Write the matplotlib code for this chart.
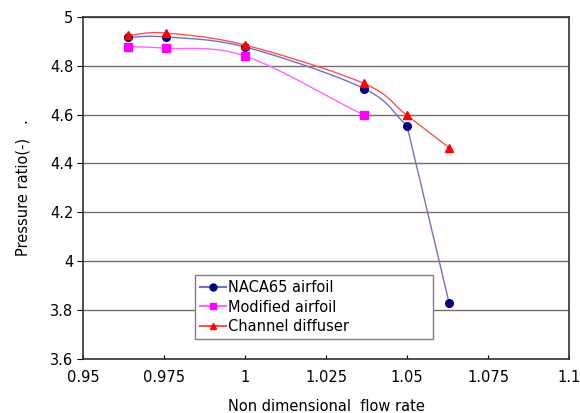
import numpy as np
import matplotlib.pyplot as plt

flow = [0.964, 0.9755, 1.0, 1.0367, 1.05, 1.063]
naca = [4.917, 4.918, 4.877, 4.707, 4.555, 3.83]
flow_mod = [0.964, 0.9755, 1.0, 1.0367]
modified = [4.878, 4.872, 4.84, 4.598]
channel = [4.925, 4.934, 4.885, 4.728, 4.597, 4.465]


def smooth(xs, ys, n=30):
    # catmull-rom, similar to Excel "smoothed line"
    xs = np.asarray(xs, float)
    ys = np.asarray(ys, float)
    px = np.concatenate([[2 * xs[0] - xs[1]], xs, [2 * xs[-1] - xs[-2]]])
    py = np.concatenate([[2 * ys[0] - ys[1]], ys, [2 * ys[-1] - ys[-2]]])
    ox, oy = [], []
    for i in range(1, len(px) - 2):
        t = np.linspace(0, 1, n)
        for p, o in ((px, ox), (py, oy)):
            p0, p1, p2, p3 = p[i - 1], p[i], p[i + 1], p[i + 2]
            o.extend(0.5 * (2 * p1 + (-p0 + p2) * t + (2 * p0 - 5 * p1 + 4 * p2 - p3) * t ** 2
                            + (-p0 + 3 * p1 - 3 * p2 + p3) * t ** 3))
    return ox, oy


fig = plt.figure(figsize=(5.8, 4.13), dpi=100)
ax = fig.add_axes([0.143, 0.131, 0.838, 0.828])

# smooth up to 1.05, straight to last point
sx, sy = smooth(flow[:5], naca[:5])
ax.plot(sx + flow[5:], sy + naca[5:], color='#7070c8', lw=1)
ax.plot(flow, naca, 'o', color='#000080', ms=5.5)
sx, sy = smooth(flow_mod, modified)
ax.plot(sx, sy, color='#ff66ff', lw=1)
ax.plot(flow_mod, modified, 's', color='#ff00ff', ms=6)
sx, sy = smooth(flow[:5], channel[:5])
ax.plot(sx + flow[5:], sy + channel[5:], color='#ff5050', lw=1)
ax.plot(flow, channel, '^', color='#ff0000', ms=6)

# legend proxies with line + marker
h = [plt.Line2D([], [], color='#7070c8', marker='o', mfc='#000080', mec='#000080', ms=5),
     plt.Line2D([], [], color='#ff66ff', marker='s', mfc='#ff00ff', mec='#ff00ff', ms=5),
     plt.Line2D([], [], color='#ff5050', marker='^', mfc='#ff0000', mec='#ff0000', ms=5)]
leg = ax.legend(h, ['NACA65 airfoil', 'Modified airfoil', 'Channel diffuser'],
                loc='lower left', bbox_to_anchor=(0.230, 0.058, 0.491, 0.187), mode='expand',
                borderaxespad=0, fancybox=False, framealpha=1, edgecolor='#808080',
                fontsize=10.5, handlelength=1.8, handletextpad=0.1, labelspacing=0.3,
                borderpad=0.35)
leg.get_frame().set_linewidth(1)

ax.set_xlim(0.95, 1.1)
ax.set_ylim(3.6, 5.0)
ax.set_xticks([0.95, 0.975, 1.0, 1.025, 1.05, 1.075, 1.1])
ax.set_xticklabels(['0.95', '0.975', '1', '1.025', '1.05', '1.075', '1.1'])
ax.set_yticks(np.arange(3.6, 5.01, 0.2))
ax.set_yticklabels(['3.6', '3.8', '4', '4.2', '4.4', '4.6', '4.8', '5'])
ax.yaxis.grid(True, color='#707070', lw=1)
ax.tick_params(axis='x', direction='in', length=3, labelsize=10.5, pad=8)
ax.tick_params(axis='y', direction='out', length=4, labelsize=10.5, pad=3)
for s in ax.spines.values():
    s.set_color('#303030')
    s.set_linewidth(1.2)
ax.set_xlabel('Non dimensional  flow rate', fontsize=10.5, labelpad=10)
ax.set_ylabel('Pressure ratio(-)   .', fontsize=10.5, labelpad=14)

fig.savefig('out.png', dpi=100)
